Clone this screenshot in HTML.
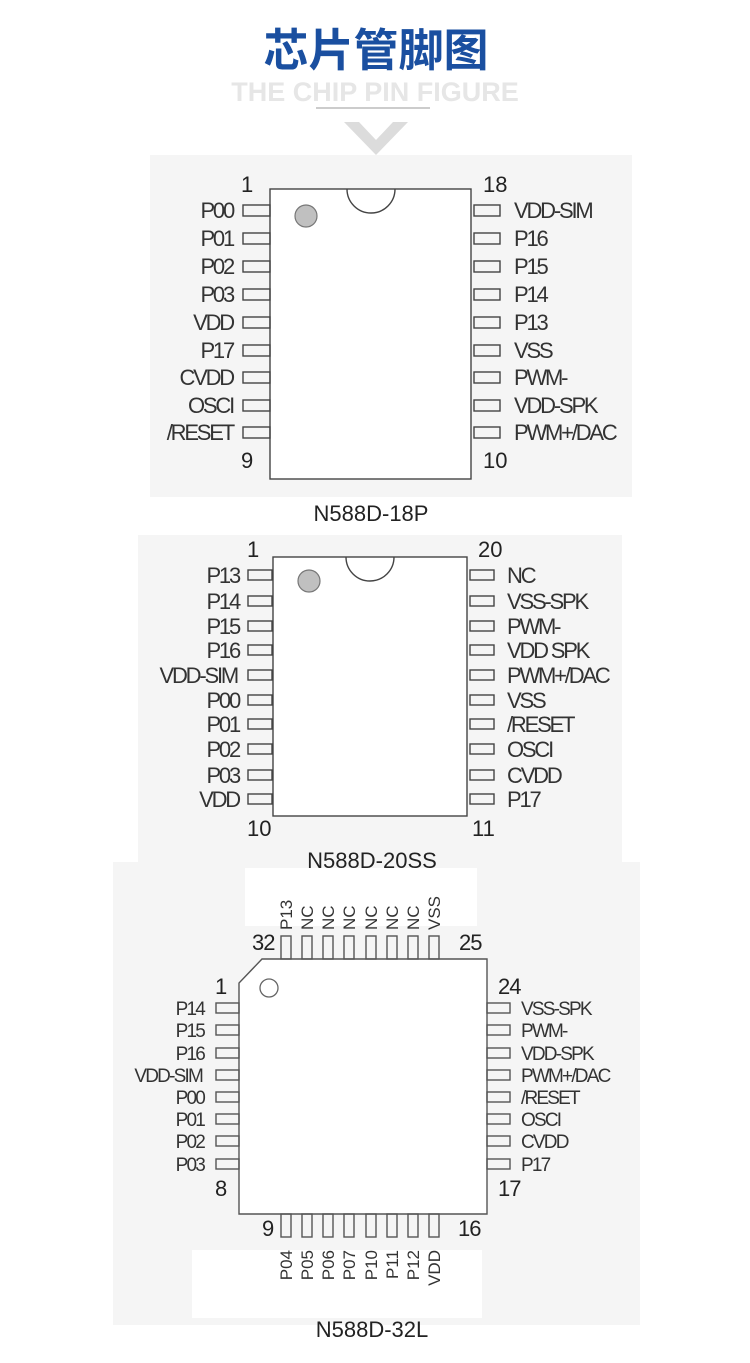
<!DOCTYPE html>
<html><head><meta charset="utf-8"><style>
html,body{margin:0;padding:0;background:#fff;}
svg{display:block;}
.l{font-family:"Liberation Sans",sans-serif;font-size:22px;fill:#333;letter-spacing:-2.2px;}
.s{font-family:"Liberation Sans",sans-serif;font-size:19px;fill:#333;letter-spacing:-1.8px;}
.n{font-family:"Liberation Sans",sans-serif;font-size:22px;fill:#222;}
.c{font-family:"Liberation Sans",sans-serif;font-size:22px;fill:#222;text-anchor:middle;}
.r{font-family:"Liberation Sans",sans-serif;font-size:17px;fill:#333;}
</style></head><body>
<svg width="750" height="1363" viewBox="0 0 750 1363" xmlns="http://www.w3.org/2000/svg">
<rect x="150" y="155" width="482" height="342" fill="#f5f5f5"/>
<rect x="138" y="535" width="484" height="327" fill="#f5f5f5"/>
<rect x="113" y="862" width="527" height="463" fill="#f5f5f5"/>
<rect x="245" y="868" width="232" height="58" fill="#fff"/>
<rect x="192" y="1250" width="290" height="68" fill="#fff"/>

<text x="376" y="66" text-anchor="middle" font-family="'Liberation Sans','Noto Sans CJK SC',sans-serif" font-weight="bold" font-size="45" fill="#1a4fa0">芯片管脚图</text>
<text x="375" y="101" text-anchor="middle" font-family="'Liberation Sans',sans-serif" font-weight="bold" font-size="27" fill="#e6e6e6">THE CHIP PIN FIGURE</text>
<line x1="316" y1="108" x2="430" y2="108" stroke="#999" stroke-width="1"/>
<polygon points="344,122 359,122 376,140 393,122 408,122 376,155" fill="#dcdcdc"/>

<!-- Chip 1 -->
<g stroke="#444" stroke-width="1.4" fill="#fff">
<rect x="270" y="189" width="201" height="290"/>
<path d="M347,189 A24,24 0 0 0 395,189" fill="none"/>
<g fill="none">
<rect x="243" y="205" width="27" height="11"/><rect x="243" y="233" width="27" height="11"/><rect x="243" y="261" width="27" height="11"/><rect x="243" y="289" width="27" height="11"/><rect x="243" y="317" width="27" height="11"/><rect x="243" y="345" width="27" height="11"/><rect x="243" y="372" width="27" height="11"/><rect x="243" y="400" width="27" height="11"/><rect x="243" y="427" width="27" height="11"/>
<rect x="474" y="205" width="26" height="11"/><rect x="474" y="233" width="26" height="11"/><rect x="474" y="261" width="26" height="11"/><rect x="474" y="289" width="26" height="11"/><rect x="474" y="317" width="26" height="11"/><rect x="474" y="345" width="26" height="11"/><rect x="474" y="372" width="26" height="11"/><rect x="474" y="400" width="26" height="11"/><rect x="474" y="427" width="26" height="11"/>
</g></g>
<circle cx="306" cy="216" r="11" fill="#c0c0c0" stroke="#777" stroke-width="1.2"/>
<g class="l" text-anchor="end">
<text x="233" y="218">P00</text><text x="233" y="246">P01</text><text x="233" y="274">P02</text><text x="233" y="302">P03</text><text x="233" y="330">VDD</text><text x="233" y="358">P17</text><text x="233" y="385">CVDD</text><text x="233" y="413">OSCI</text><text x="233" y="440">/RESET</text>
</g>
<g class="l">
<text x="514" y="218">VDD-SIM</text><text x="514" y="246">P16</text><text x="514" y="274">P15</text><text x="514" y="302">P14</text><text x="514" y="330">P13</text><text x="514" y="358">VSS</text><text x="514" y="385">PWM-</text><text x="514" y="413">VDD-SPK</text><text x="514" y="440">PWM+/DAC</text>
</g>
<text class="n" x="241" y="192">1</text><text class="n" x="483" y="192">18</text>
<text class="n" x="241" y="468">9</text><text class="n" x="483" y="468" font-family="'Liberation Serif',serif">10</text>
<text class="c" x="371" y="521">N588D-18P</text>

<!-- Chip 2 -->
<g stroke="#444" stroke-width="1.4" fill="#fff">
<rect x="273" y="557" width="194" height="259"/>
<path d="M346,557 A24,24 0 0 0 394,557" fill="none"/>
<g fill="none">
<rect x="248" y="570" width="24" height="10"/><rect x="248" y="596" width="24" height="10"/><rect x="248" y="621" width="24" height="10"/><rect x="248" y="645" width="24" height="10"/><rect x="248" y="670" width="24" height="10"/><rect x="248" y="695" width="24" height="10"/><rect x="248" y="719" width="24" height="10"/><rect x="248" y="744" width="24" height="10"/><rect x="248" y="770" width="24" height="10"/><rect x="248" y="794" width="24" height="10"/>
<rect x="470" y="570" width="24" height="10"/><rect x="470" y="596" width="24" height="10"/><rect x="470" y="621" width="24" height="10"/><rect x="470" y="645" width="24" height="10"/><rect x="470" y="670" width="24" height="10"/><rect x="470" y="695" width="24" height="10"/><rect x="470" y="719" width="24" height="10"/><rect x="470" y="744" width="24" height="10"/><rect x="470" y="770" width="24" height="10"/><rect x="470" y="794" width="24" height="10"/>
</g></g>
<circle cx="309" cy="581" r="11" fill="#c0c0c0" stroke="#777" stroke-width="1.2"/>
<g class="l" text-anchor="end">
<text x="239" y="583">P13</text><text x="239" y="609">P14</text><text x="239" y="634">P15</text><text x="239" y="658">P16</text><text x="237" y="683">VDD-SIM</text><text x="239" y="708">P00</text><text x="239" y="732">P01</text><text x="239" y="757">P02</text><text x="239" y="783">P03</text><text x="239" y="807">VDD</text>
</g>
<g class="l">
<text x="507" y="583">NC</text><text x="507" y="609">VSS-SPK</text><text x="507" y="634">PWM-</text><text x="507" y="658">VDD SPK</text><text x="507" y="683">PWM+/DAC</text><text x="507" y="708">VSS</text><text x="507" y="732">/RESET</text><text x="507" y="757">OSCI</text><text x="507" y="783">CVDD</text><text x="507" y="807">P17</text>
</g>
<text class="n" x="247" y="557">1</text><text class="n" x="478" y="557">20</text>
<text class="n" x="247" y="836">10</text><text class="n" x="472" y="836">11</text>
<text class="c" x="372" y="868">N588D-20SS</text>

<!-- Chip 3 -->
<g stroke="#555" stroke-width="1.4" fill="#fff">
<path d="M262,959 L487,959 L487,1214 L239,1214 L239,983 Z"/>
<g fill="none">
<rect x="216" y="1003" width="23" height="10"/><rect x="216" y="1025" width="23" height="10"/><rect x="216" y="1048" width="23" height="10"/><rect x="216" y="1070" width="23" height="10"/><rect x="216" y="1092" width="23" height="10"/><rect x="216" y="1114" width="23" height="10"/><rect x="216" y="1136" width="23" height="10"/><rect x="216" y="1159" width="23" height="10"/>
<rect x="487" y="1003" width="23" height="10"/><rect x="487" y="1025" width="23" height="10"/><rect x="487" y="1048" width="23" height="10"/><rect x="487" y="1070" width="23" height="10"/><rect x="487" y="1092" width="23" height="10"/><rect x="487" y="1114" width="23" height="10"/><rect x="487" y="1136" width="23" height="10"/><rect x="487" y="1159" width="23" height="10"/>
<rect x="281" y="936" width="10" height="23"/><rect x="302" y="936" width="10" height="23"/><rect x="323" y="936" width="10" height="23"/><rect x="344" y="936" width="10" height="23"/><rect x="366" y="936" width="10" height="23"/><rect x="387" y="936" width="10" height="23"/><rect x="408" y="936" width="10" height="23"/><rect x="429" y="936" width="10" height="23"/>
<rect x="281" y="1214" width="10" height="23"/><rect x="302" y="1214" width="10" height="23"/><rect x="323" y="1214" width="10" height="23"/><rect x="344" y="1214" width="10" height="23"/><rect x="366" y="1214" width="10" height="23"/><rect x="387" y="1214" width="10" height="23"/><rect x="408" y="1214" width="10" height="23"/><rect x="429" y="1214" width="10" height="23"/>
</g></g>
<circle cx="269" cy="988" r="9" fill="none" stroke="#666" stroke-width="1.3"/>
<g class="s" text-anchor="end">
<text x="204" y="1015">P14</text><text x="204" y="1037">P15</text><text x="204" y="1060">P16</text><text x="202" y="1082">VDD-SIM</text><text x="204" y="1104">P00</text><text x="204" y="1126">P01</text><text x="204" y="1148">P02</text><text x="204" y="1171">P03</text>
</g>
<g class="s">
<text x="521" y="1015">VSS-SPK</text><text x="521" y="1037">PWM-</text><text x="521" y="1060">VDD-SPK</text><text x="521" y="1082">PWM+/DAC</text><text x="521" y="1104">/RESET</text><text x="521" y="1126">OSCI</text><text x="521" y="1148">CVDD</text><text x="521" y="1171">P17</text>
</g>
<g class="r">
<text transform="translate(292,930) rotate(-90)">P13</text>
<text transform="translate(313,930) rotate(-90)">NC</text>
<text transform="translate(334,930) rotate(-90)">NC</text>
<text transform="translate(355,930) rotate(-90)">NC</text>
<text transform="translate(377,930) rotate(-90)">NC</text>
<text transform="translate(398,930) rotate(-90)">NC</text>
<text transform="translate(419,930) rotate(-90)">NC</text>
<text transform="translate(440,930) rotate(-90)">VSS</text>
</g>
<g class="r" text-anchor="end">
<text transform="translate(292,1250) rotate(-90)">P04</text>
<text transform="translate(313,1250) rotate(-90)">P05</text>
<text transform="translate(334,1250) rotate(-90)">P06</text>
<text transform="translate(355,1250) rotate(-90)">P07</text>
<text transform="translate(377,1250) rotate(-90)">P10</text>
<text transform="translate(398,1250) rotate(-90)">P11</text>
<text transform="translate(419,1250) rotate(-90)">P12</text>
<text transform="translate(440,1250) rotate(-90)">VDD</text>
</g>
<g class="n" font-size="19" letter-spacing="-1">
<text x="252" y="950">32</text><text x="459" y="950">25</text>
<text x="215" y="994">1</text><text x="498" y="994">24</text>
<text x="215" y="1196">8</text><text x="498" y="1196">17</text>
<text x="262" y="1236">9</text><text x="458" y="1236">16</text>
</g>
<text class="c" x="372" y="1337">N588D-32L</text>
</svg>
</body></html>
